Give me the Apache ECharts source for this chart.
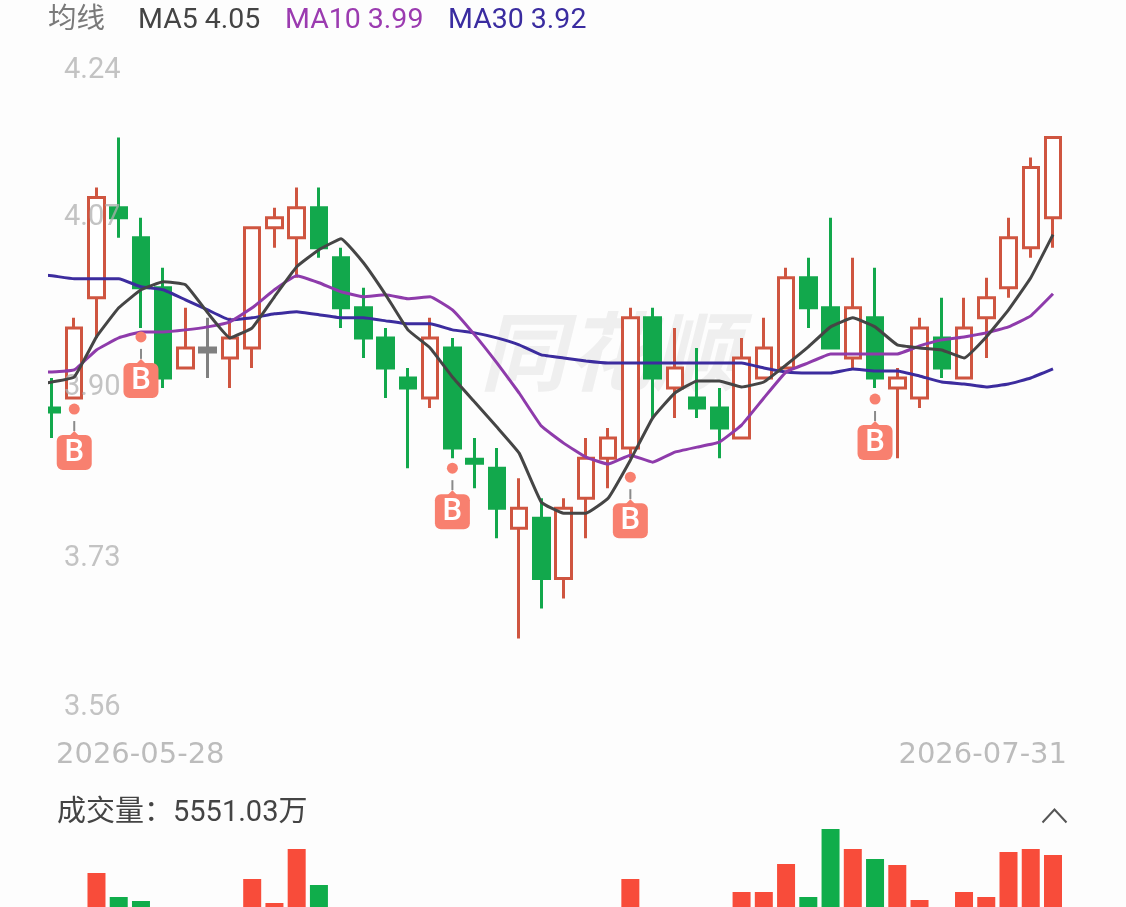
<!DOCTYPE html>
<html>
<head>
<meta charset="utf-8">
<title>K线</title>
<script src="https://cdn.jsdelivr.net/npm/echarts@6/dist/echarts.min.js"></script>
<style>
html,body{margin:0;padding:0;background:#fdfdfd;}
#chart{width:1126px;height:907px;}
</style>
</head>
<body>
<div id="chart"></div>
<script>
// first entry is the day before the window, only its MA values show (cut off at the left)
var dates = ['2026-05-27','2026-05-28','2026-05-29',
	'2026-06-01','2026-06-02','2026-06-03','2026-06-04','2026-06-05',
	'2026-06-08','2026-06-09','2026-06-10','2026-06-11','2026-06-12',
	'2026-06-15','2026-06-16','2026-06-17','2026-06-18',
	'2026-06-22','2026-06-23','2026-06-24','2026-06-25','2026-06-26',
	'2026-06-29','2026-06-30','2026-07-01','2026-07-02','2026-07-03',
	'2026-07-06','2026-07-07','2026-07-08','2026-07-09','2026-07-10',
	'2026-07-13','2026-07-14','2026-07-15','2026-07-16','2026-07-17',
	'2026-07-20','2026-07-21','2026-07-22','2026-07-23','2026-07-24',
	'2026-07-27','2026-07-28','2026-07-29','2026-07-30','2026-07-31'];
var openPrice = [null,3.88,3.89,3.99,4.08,4.05,4.00,3.92,3.94,3.93,3.94,4.06,4.05,4.08,4.03,3.98,3.95,3.91,3.89,3.94,3.829,3.82,3.76,3.77,3.71,3.79,3.83,3.84,3.97,3.90,3.89,3.88,3.85,3.91,3.92,4.01,3.98,3.93,3.97,3.90,3.89,3.95,3.91,3.97,4.00,4.04,4.07];
var closePrice = [null,3.876,3.96,4.09,4.07,4.00,3.91,3.94,3.936,3.95,4.06,4.07,4.08,4.04,3.98,3.95,3.92,3.90,3.95,3.84,3.825,3.78,3.78,3.71,3.78,3.83,3.85,3.97,3.91,3.92,3.88,3.86,3.93,3.94,4.01,3.98,3.94,3.98,3.91,3.91,3.96,3.92,3.96,3.99,4.05,4.12,4.15];
var lowPrice = [null,3.85,3.89,3.95,4.05,3.96,3.90,3.92,3.91,3.90,3.92,4.04,4.01,4.03,3.96,3.93,3.89,3.82,3.88,3.83,3.80,3.75,3.65,3.68,3.69,3.75,3.80,3.83,3.87,3.87,3.87,3.83,3.85,3.91,3.92,3.96,3.94,3.92,3.90,3.83,3.88,3.91,3.91,3.93,3.99,4.03,4.04];
var highPrice = [null,3.91,3.97,4.10,4.15,4.07,4.02,3.98,3.97,3.97,4.06,4.08,4.10,4.10,4.04,4.00,3.96,3.92,3.97,3.95,3.85,3.84,3.81,3.79,3.79,3.85,3.86,3.98,3.98,3.96,3.94,3.90,3.95,3.97,4.02,4.03,4.07,4.03,4.02,3.92,3.97,3.99,3.99,4.01,4.07,4.13,4.15];
var ma5 = [3.902,3.906,3.911,3.951,3.980,3.998,4.006,4.003,3.975,3.950,3.960,3.991,4.021,4.038,4.049,4.025,3.993,3.958,3.940,3.911,3.886,3.861,3.835,3.786,3.775,3.775,3.790,3.828,3.870,3.895,3.907,3.907,3.901,3.906,3.923,3.941,3.961,3.970,3.961,3.943,3.940,3.938,3.930,3.951,3.978,4.010,4.053];
var ma10 = [3.916,3.916,3.918,3.938,3.950,3.956,3.956,3.958,3.961,3.966,3.980,3.998,4.012,4.005,3.996,3.991,3.993,3.989,3.991,3.978,3.953,3.925,3.895,3.862,3.845,3.831,3.824,3.833,3.826,3.836,3.841,3.846,3.863,3.890,3.916,3.925,3.934,3.934,3.934,3.934,3.942,3.948,3.951,3.955,3.961,3.972,3.994];
var ma30 = [4.014,4.012,4.009,4.009,4.009,4.001,3.998,3.988,3.978,3.968,3.970,3.974,3.976,3.973,3.970,3.970,3.967,3.964,3.964,3.958,3.955,3.950,3.943,3.933,3.930,3.927,3.925,3.925,3.925,3.925,3.925,3.925,3.925,3.920,3.916,3.915,3.915,3.919,3.917,3.917,3.912,3.906,3.904,3.901,3.904,3.910,3.919];
// 万手, only the bars that reach above the bottom edge of the picture can be read
var volume = [null,null,null,4782,3758,3587,null,null,null,null,4526,3501,5807,4270,null,null,null,null,null,null,null,null,null,null,null,null,null,4526,null,null,null,null,3971,3971,5167,3758,6661,5807,5380,5124,3630,null,3971,3758,5679,5807,5551];
var priceTicks = [3.56,3.73,3.90,4.07,4.24];
var buyDates = ['2026-05-29','2026-06-03','2026-06-24','2026-07-06','2026-07-21'];
var buyPrice = [3.879,3.951,3.820,3.811,3.889];
var grayDay = '2026-06-08';

var BG = '#fdfdfd', RED = '#cf5540', GREEN = '#12a84c', BAR_RED = '#f84c3a', BAR_GREEN = '#10ad4b';
var TAG = '#f8806f';
var NUM_FONT = 'Roboto';

var candles = [], bars = [];
for (var i = 0; i < dates.length; i++) {
	if (openPrice[i] === null) {
		candles.push('-');
	} else if (dates[i] === grayDay) {
		candles.push({
			value: [openPrice[i], closePrice[i], lowPrice[i], highPrice[i]],
			itemStyle: {color0: '#808080', borderColor0: '#808080'}
		});
	} else {
		candles.push([openPrice[i], closePrice[i], lowPrice[i], highPrice[i]]);
	}
	bars.push({
		value: volume[i],
		itemStyle: {color: closePrice[i] > openPrice[i] ? BAR_RED : BAR_GREEN}
	});
}

var buyData = [];
for (var k = 0; k < buyDates.length; k++) {
	buyData.push([buyDates[k], buyPrice[k]]);
}

function renderBuy(params, api) {
	var p = api.coord([api.value(0), api.value(1)]);
	var x = p[0], y = p[1];
	return {
		type: 'group',
		children: [
			{type: 'circle', shape: {cx: x, cy: y, r: 5.5}, style: {fill: TAG}},
			{type: 'line', shape: {x1: x, y1: y + 12, x2: x, y2: y + 22}, style: {stroke: '#8a8a8a', lineWidth: 2}},
			{type: 'polygon', shape: {points: [[x - 6, y + 28], [x, y + 22], [x + 6, y + 28]]}, style: {fill: TAG}},
			{type: 'rect', shape: {x: x - 17.5, y: y + 26, width: 35, height: 35, r: 6}, style: {fill: TAG}},
			{type: 'text', style: {x: x, y: y + 44, text: 'B', fill: '#fff', font: '500 31px ' + NUM_FONT, textAlign: 'center', textVerticalAlign: 'middle'}}
		]
	};
}

function headText(x, text, color) {
	return {type: 'text', left: x, top: 7, z: 10, style: {text: text, fill: color, font: '28.5px ' + NUM_FONT + ',"Noto Sans CJK SC"'}};
}

var chart = echarts.init(document.getElementById('chart'));
chart.setOption({
	animation: false,
	backgroundColor: BG,
	grid: [
		{left: 18.63, right: 61.88, top: 47.3, height: 681.4, outerBoundsMode: 'none'},
		{left: 18.63, right: 61.88, top: 820, height: 165, outerBoundsMode: 'none'}
	],
	xAxis: [
		{type: 'category', data: dates, gridIndex: 0, axisLine: {show: false}, axisTick: {show: false}, axisLabel: {show: false}, splitLine: {show: false}},
		{type: 'category', data: dates, gridIndex: 1, axisLine: {show: false}, axisTick: {show: false}, axisLabel: {show: false}, splitLine: {show: false}}
	],
	yAxis: [
		{
			type: 'value', gridIndex: 0, min: 3.56, max: 4.24, z: 3,
			axisLine: {show: false}, axisTick: {show: false}, splitLine: {show: false},
			axisLabel: {
				inside: true, margin: 45.4, color: 'rgba(175,175,175,0.75)', fontSize: 29, fontFamily: NUM_FONT,
				lineHeight: 41, padding: [3, 0, 0, 0],
				customValues: priceTicks,
				verticalAlignMinLabel: 'bottom', verticalAlignMaxLabel: 'top',
				formatter: function (v) { return v.toFixed(2); }
			}
		},
		{type: 'value', gridIndex: 1, min: 0, max: 7045, show: false}
	],
	graphic: [
		{type: 'text', left: 480, top: 308, z: 0, style: {text: '同花顺', fill: '#efefef', font: 'italic bold 86px "Noto Sans CJK SC"'}},
		// hides the part of the first candle and MA lines that run past the left edge
		{type: 'rect', left: 0, top: 250, z: 50, shape: {width: 48, height: 210}, style: {fill: BG}},
		headText(48, '均线', '#7a7a7a'),
		headText(138, 'MA5 4.05', '#444444'),
		headText(285, 'MA10 3.99', '#9b3bb0'),
		headText(448, 'MA30 3.92', '#3a2ca0'),
		{type: 'text', left: 56, top: 741, z: 10, style: {text: dates[1], fill: '#bcbcbc', font: '29px "DejaVu Sans"'}},
		{type: 'text', right: 59, top: 741, z: 10, style: {text: dates[dates.length - 1], fill: '#bcbcbc', font: '29px "DejaVu Sans"'}},
		{type: 'text', left: 57, top: 799, z: 10, style: {text: '成交量：5551.03万', fill: '#444444', font: '29px ' + NUM_FONT + ',"Noto Sans CJK SC"'}},
		{type: 'polyline', left: 1040, top: 807, z: 10, shape: {points: [[0, 13], [12, 0], [24, 13]]}, style: {fill: 'none', stroke: '#555555', lineWidth: 2}}
	],
	series: [
		{
			type: 'candlestick', name: 'K', data: candles, xAxisIndex: 0, yAxisIndex: 0,
			barWidth: 16, clip: false,
			itemStyle: {color: '#ffffff', color0: GREEN, borderColor: RED, borderColor0: GREEN, borderWidth: 3}
		},
		{type: 'line', name: 'MA30', data: ma30, xAxisIndex: 0, yAxisIndex: 0, showSymbol: false, smooth: 0.1, lineStyle: {color: '#3c2c9e', width: 3}},
		{type: 'line', name: 'MA10', data: ma10, xAxisIndex: 0, yAxisIndex: 0, showSymbol: false, smooth: 0.1, lineStyle: {color: '#8e3bab', width: 3}},
		{type: 'line', name: 'MA5', data: ma5, xAxisIndex: 0, yAxisIndex: 0, showSymbol: false, smooth: 0.1, lineStyle: {color: '#454545', width: 3}},
		{type: 'custom', name: 'B', data: buyData, xAxisIndex: 0, yAxisIndex: 0, z: 10, clip: false, renderItem: renderBuy, encode: {x: 0, y: 1}},
		{type: 'bar', name: '成交量', data: bars, xAxisIndex: 1, yAxisIndex: 1, barWidth: 18}
	]
});
</script>
</body>
</html>
